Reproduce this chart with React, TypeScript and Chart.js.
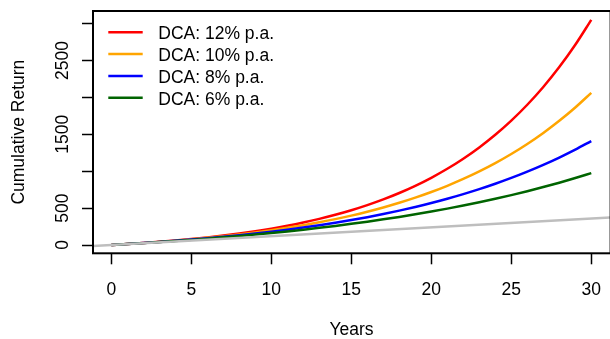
import React, { useEffect, useRef } from "react";
import { Chart, registerables } from "chart.js";

Chart.register(...registerables);

const years = [0, 1, 2, 3, 4, 5, 6, 7, 8, 9, 10, 11, 12, 13, 14, 15, 16, 17, 18, 19, 20, 21, 22, 23, 24, 25, 26, 27, 28, 29, 30];

const dca12 = [0, 12.6, 26.8, 42.7, 60.4, 80.3, 102.6, 127.6, 155.5, 186.8, 221.9, 261.2, 305.2, 354.4, 409.6, 471.4, 540.7, 618.2, 705.0, 802.3, 911.2, 1033.2, 1169.8, 1322.8, 1494.2, 1686.2, 1901.2, 2142.0, 2411.6, 2713.7, 3052.0];
const dca10 = [0, 12.5, 26.3, 41.5, 58.2, 76.6, 96.8, 119.0, 143.4, 170.3, 199.9, 232.4, 268.2, 307.5, 350.8, 398.5, 450.8, 508.5, 571.8, 641.6, 718.3, 802.6, 895.4, 997.5, 1109.8, 1233.3, 1369.2, 1518.7, 1683.1, 1863.9, 2062.9];
const dca8 = [0, 12.4, 25.9, 40.4, 56.1, 73.0, 91.3, 111.0, 132.3, 155.3, 180.2, 207.0, 236.0, 267.3, 301.1, 337.7, 377.1, 419.7, 465.7, 515.4, 569.0, 627.0, 689.6, 757.2, 830.2, 909.0, 994.2, 1086.1, 1185.5, 1292.7, 1408.6];
const dca6 = [0, 12.3, 25.4, 39.2, 53.9, 69.5, 86.0, 103.5, 122.0, 141.7, 162.5, 184.6, 208.0, 232.8, 259.0, 286.9, 316.5, 347.8, 381.0, 416.1, 453.4, 493.0, 534.9, 579.3, 626.4, 676.3, 729.2, 785.3, 844.7, 907.8, 974.5];

// invested capital reference line (gray)
const investedX = [-1.2, 31.2];
const investedY = [-14.4, 374.4];

const seriesLabels = ["DCA: 12% p.a.", "DCA: 10% p.a.", "DCA: 8% p.a.", "DCA: 6% p.a."];
const seriesColors = ["#FF0000", "#FFA500", "#0000FF", "#006400"];
const investedColor = "#BEBEBE";

const xTicks = [0, 5, 10, 15, 20, 25, 30];
const yTicks = [0, 500, 1000, 1500, 2000, 2500, 3000];
const yTickLabels = ["0", "500", "", "1500", "", "2500", ""];

const xTitle = "Years";
const yTitle = "Cumulative Return";

const FONT = "'Liberation Sans', Arial, Helvetica, sans-serif";
const FS = 17.5;
const LW = 2.5;

const toPts = (ys: number[]) => years.map((x, i) => ({ x, y: ys[i] }));

const overlayPlugin = {
  id: "overlay",
  afterDraw(chart: any) {
    const { ctx, chartArea, scales } = chart;
    const ys = scales.y;
    ctx.save();
    // rotated y tick labels
    ctx.fillStyle = "#000";
    ctx.font = `${FS}px ${FONT}`;
    ctx.textAlign = "center";
    ctx.textBaseline = "alphabetic";
    yTicks.forEach((v, i) => {
      const lab = yTickLabels[i];
      if (!lab) return;
      const py = ys.getPixelForValue(v);
      ctx.save();
      ctx.translate(68.3, py);
      ctx.rotate(-Math.PI / 2);
      ctx.fillText(lab, 0, 0);
      ctx.restore();
    });
    // box
    ctx.strokeStyle = "#000";
    ctx.lineWidth = 2;
    ctx.strokeRect(chartArea.left, chartArea.top, chartArea.right + 0.6 - chartArea.left, chartArea.bottom - chartArea.top);
    // legend
    const lx0 = 108.3;
    const lx1 = 142.7;
    const tx = 158.3;
    const ly0 = 32.3;
    const step = 21.8;
    ctx.textAlign = "left";
    seriesLabels.forEach((lab, i) => {
      const ly = ly0 + i * step;
      ctx.strokeStyle = seriesColors[i];
      ctx.lineWidth = LW;
      ctx.beginPath();
      ctx.moveTo(lx0, ly);
      ctx.lineTo(lx1, ly);
      ctx.stroke();
      ctx.fillStyle = "#000";
      ctx.fillText(lab, tx, ly + 7);
    });
    ctx.restore();
  },
};

export default function App() {
  const ref = useRef<HTMLCanvasElement | null>(null);
  useEffect(() => {
    if (!ref.current) return;
    const seriesData = [dca12, dca10, dca8, dca6];
    const colored = seriesData
      .map((d, i) => ({
        label: seriesLabels[i],
        data: toPts(d),
        borderColor: seriesColors[i],
        backgroundColor: seriesColors[i],
        borderWidth: LW,
        pointRadius: 0,
        cubicInterpolationMode: "monotone" as const,
        fill: false,
      }))
      .reverse();
    const chart = new Chart(ref.current, {
      type: "line",
      data: {
        datasets: [
          {
            label: "Invested",
            data: investedX.map((x, i) => ({ x, y: investedY[i] })),
            borderColor: investedColor,
            backgroundColor: investedColor,
            borderWidth: LW,
            pointRadius: 0,
            fill: false,
          },
          ...colored,
        ],
      },
      options: {
        responsive: false,
        animation: false,
        layout: { padding: { top: 11, right: 0, left: 0, bottom: 0 } },
        plugins: { legend: { display: false }, tooltip: { enabled: false } },
        scales: {
          x: {
            type: "linear",
            min: -1.144,
            max: 31.17,
            afterBuildTicks: (s: any) => {
              s.ticks = xTicks.map((v) => ({ value: v }));
            },
            afterFit: (s: any) => {
              s.height = 339 - 253.3;
              s.paddingLeft = 0;
              s.paddingRight = 0;
              s.paddingTop = 0;
              s.paddingBottom = 0;
            },
            grid: { drawOnChartArea: false, drawTicks: true, tickLength: 11, tickColor: "#000", tickWidth: 1.5 },
            border: { display: false },
            ticks: {
              color: "#000",
              font: { family: FONT, size: FS },
              padding: 15,
              maxRotation: 0,
              minRotation: 0,
              autoSkip: false,
              callback: (v: any) => String(v),
            },
            title: {
              display: true,
              text: xTitle,
              color: "#000",
              font: { family: FONT, size: FS, lineHeight: 1 },
              padding: { top: 0, bottom: -0.35 },
            },
          },
          y: {
            type: "linear",
            min: -112.5,
            max: 3172,
            afterBuildTicks: (s: any) => {
              s.ticks = yTicks.map((v) => ({ value: v }));
            },
            afterFit: (s: any) => {
              s.width = 93;
              s.paddingLeft = 0;
              s.paddingRight = 0;
              s.paddingTop = 0;
              s.paddingBottom = 0;
            },
            grid: { drawOnChartArea: false, drawTicks: true, tickLength: 11, tickColor: "#000", tickWidth: 1.5 },
            border: { display: false },
            ticks: { display: false },
            title: {
              display: true,
              text: yTitle,
              color: "#000",
              font: { family: FONT, size: FS },
              padding: { top: 9.1, bottom: 0 },
            },
          },
        },
      },
      plugins: [overlayPlugin],
    });
    return () => chart.destroy();
  }, []);
  return (
    <div style={{ position: "absolute", left: 0, top: 0, width: 610, height: 339, background: "#fff" }}>
      <canvas ref={ref} width={610} height={339} style={{ display: "block", width: 610, height: 339 }} />
    </div>
  );
}
